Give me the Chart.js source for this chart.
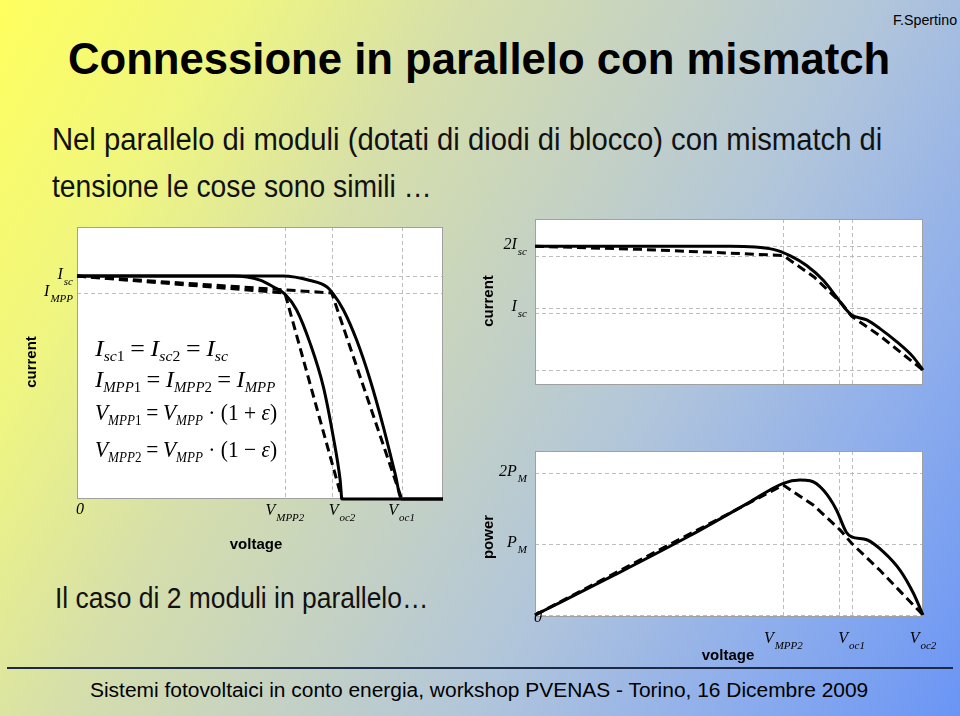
<!DOCTYPE html>
<html>
<head>
<meta charset="utf-8">
<script src="https://cdn.jsdelivr.net/npm/chart.js@4.4.1/dist/chart.umd.min.js"></script>
<style>
  html, body { margin:0; padding:0; }
  body {
    width:960px; height:716px; overflow:hidden; position:relative;
    background: linear-gradient(120deg, #ffff5e 0%, #eef582 18%, #d6dfaa 34%, #c4d1c4 50%, #b2c6da 64%, #93b1ea 80%, #6a95f5 100%);
    font-family: "Liberation Sans", Arial, sans-serif; color:#000;
  }
  .txt { position:absolute; white-space:nowrap; line-height:1; display:inline-block; transform-origin:left center; }
  .title { font-size:44px; font-weight:bold; }
  .body { font-size:31px; color:#111; }
  .foot { font-size:20px; }
  .axt { position:absolute; font-size:15px; font-weight:bold; white-space:nowrap; line-height:1; transform:translate(-50%,-50%); }
  .axt.rot { transform:translate(-50%,-50%) rotate(-90deg); }
  .eq { position:absolute; left:95px; font-family:"Liberation Serif", "Times New Roman", serif; font-size:23px; line-height:1; white-space:nowrap; display:inline-block; transform-origin:left center; }
  .eq sub { font-size:14px; vertical-align:-5px; line-height:0; }
  .eq .op { margin:0 5px; }
  .sep { position:absolute; left:7px; top:667px; width:946px; height:2px; background:#1c2a48; }
  canvas { position:absolute; }
</style>
</head>
<body>

<div class="txt" style="left:893px; top:13px; font-size:14px;" data-w="64">F.Spertino</div>
<div class="txt title" style="left:68px; top:37px;" data-w="822">Connessione in parallelo con mismatch</div>
<div class="txt body" style="left:52px; top:124px;" data-w="830">Nel parallelo di moduli (dotati di diodi di blocco) con mismatch di</div>
<div class="txt body" style="left:52px; top:171px;" data-w="380">tensione le cose sono simili …</div>
<div class="txt body" style="left:55px; top:584px; font-size:29px;" data-w="373">Il caso di 2 moduli in parallelo…</div>
<div class="sep"></div>
<div class="txt foot" style="left:90px; top:680px;" data-w="778">Sistemi fotovoltaici in conto energia, workshop PVENAS - Torino, 16 Dicembre 2009</div>

<canvas id="ivSingle" width="470" height="360" style="left:0; top:200px;"></canvas>
<canvas id="ivParallel" width="480" height="225" style="left:480px; top:205px;"></canvas>
<canvas id="pvParallel" width="480" height="230" style="left:480px; top:435px;"></canvas>

<div class="eq" style="top:337px;" data-w="133"><i>I</i><sub><i>sc</i>1</sub><span class="op">=</span><i>I</i><sub><i>sc</i>2</sub><span class="op">=</span><i>I</i><sub><i>sc</i></sub></div>
<div class="eq" style="top:368px;" data-w="180"><i>I</i><sub><i>MPP</i>1</sub><span class="op">=</span><i>I</i><sub><i>MPP</i>2</sub><span class="op">=</span><i>I</i><sub><i>MPP</i></sub></div>
<div class="eq" style="top:401px;" data-w="182"><i>V</i><sub><i>MPP</i>1</sub><span class="op">=</span><i>V</i><sub><i>MPP</i></sub> · (1 + <i>ε</i>)</div>
<div class="eq" style="top:438px;" data-w="182"><i>V</i><sub><i>MPP</i>2</sub><span class="op">=</span><i>V</i><sub><i>MPP</i></sub> · (1 − <i>ε</i>)</div>

<div class="axt rot" style="left:30px; top:362px;">current</div>
<div class="axt" style="left:256px; top:543px;">voltage</div>
<div class="axt rot" style="left:487px; top:301px;">current</div>
<div class="axt rot" style="left:487px; top:537px;">power</div>
<div class="axt" style="left:728px; top:654px;">voltage</div>

<script>
// ---------- Dati: moduli singoli (curve I-V) ----------
const vMod2 = [0, 42.7, 50, 53.6, 56.8, 60, 63.7, 67.3, 70, 71.9, 72.4, 100];
const iMod2 = [1, 1, 0.982, 0.952, 0.919, 0.848, 0.698, 0.504, 0.28, 0.085, 0, 0];
const vMod1 = [0, 56.3, 63.7, 68.2, 70, 72.8, 76.4, 80.1, 83.7, 86.9, 88.7, 100];
const iMod1 = [1, 1, 0.98, 0.952, 0.92, 0.848, 0.713, 0.534, 0.324, 0.115, 0, 0];
const vMod2Lin = [0, 56.8, 72.4];
const iMod2Lin = [1, 0.924, 0];
const vMod1Lin = [0, 69.6, 88.7];
const iMod1Lin = [1, 0.924, 0];

const singleVGrid = [56.8, 69.6, 88.7];
const singleIGrid = [1, 0.924];
const singleITickVals = [1, 0.924];
const singleITickMain = ['I', 'I'];
const singleITickSub = ['sc', 'MPP'];
const singleVTickVals = [0, 56.8, 72.4, 88.7];
const singleVTickMain = ['0', 'V', 'V', 'V'];
const singleVTickSub = ['', 'MPP2', 'oc2', 'oc1'];

// ---------- Dati: parallelo (I-V) ----------
const vPar = [0, 50.3, 61.4, 65.7, 70, 74.3, 77.7, 80.3, 81.6, 85.5, 88.9, 93.2, 97.5, 100];
const iPar = [2.0, 2.0, 1.95, 1.85, 1.69, 1.45, 1.18, 0.97, 0.89, 0.81, 0.67, 0.46, 0.21, 0];
const vParLin = [0, 27, 50, 64, 72, 79, 81.6, 89, 100];
const iParLin = [2.0, 1.95, 1.89, 1.85, 1.5, 1.08, 0.87, 0.55, 0];

const parVGrid = [64, 78.4, 81.6];
const parIGrid = [2, 1.85, 1, 0.92, 0];
const parITickVals = [2, 1];
const parITickMain = ['2I', 'I'];
const parITickSub = ['sc', 'sc'];

// ---------- Dati: parallelo (P-V) ----------
const vPow = [0, 20, 40, 55, 64, 68.3, 70.9, 74.3, 77.7, 80.2, 81.6, 85.5, 89.8, 94.1, 97.5, 100];
const pPow = [0, 0.55, 1.12, 1.58, 1.855, 1.9, 1.89, 1.76, 1.48, 1.17, 1.1, 1.06, 0.89, 0.63, 0.31, 0];
const vPowLin = [0, 64, 71.7, 78.6, 81.6, 88.9, 100];
const pPowLin = [0, 1.83, 1.55, 1.2, 1.01, 0.63, 0];

const powVGrid = [64, 78.4, 81.6];
const powPGrid = [2, 1, 0];
const powPTickVals = [2, 1];
const powPTickMain = ['2P', 'P'];
const powPTickSub = ['M', 'M'];
const powVTickVals = [0, 64, 81.6, 100];
const powVTickMain = ['0', 'V', 'V', 'V'];
const powVTickSub = ['', 'MPP2', 'oc1', 'oc2'];

// ---------- Helpers ----------
const pts = (xs, ys) => xs.map((x, i) => ({ x, y: ys[i] }));
const ticks = (vals, main, sub) => vals.map((v, i) => ({ v, main: main[i], sub: sub[i] }));

function solid(data) {
  return { data, borderColor:'#000', borderWidth:3, pointRadius:0, cubicInterpolationMode:'monotone', fill:false, clip:false };
}
function dashed(data) {
  return { data, borderColor:'#000', borderWidth:3, borderDash:[9,5], pointRadius:0, tension:0, fill:false, clip:false };
}

function drawMath(ctx, x, y, main, sub, align) {
  const mf = 'italic 16px "Liberation Serif", serif';
  const sf = 'italic 11px "Liberation Serif", serif';
  ctx.font = mf; const wm = ctx.measureText(main).width;
  ctx.font = sf; const ws = sub ? ctx.measureText(sub).width + 1 : 0;
  const w = wm + ws;
  let x0 = align === 'right' ? x - w : align === 'center' ? x - w / 2 : x;
  ctx.textAlign = 'left'; ctx.textBaseline = 'alphabetic'; ctx.fillStyle = '#000';
  ctx.font = mf; ctx.fillText(main, x0, y);
  if (sub) { ctx.font = sf; ctx.fillText(sub, x0 + wm + 1, y + 6); }
}

// ---------- Plugin: area bianca, griglia tratteggiata, etichette ----------
const slidePlot = {
  id: 'slidePlot',
  beforeDraw(chart, args, o) {
    const { ctx, chartArea: a } = chart;
    const xs = chart.scales.x, ys = chart.scales.y;
    ctx.save();
    ctx.fillStyle = '#fff';
    ctx.fillRect(a.left, a.top, a.width, a.height);
    ctx.strokeStyle = '#bdbdbd'; ctx.lineWidth = 1; ctx.setLineDash([4, 3]);
    o.xGrid.forEach(v => {
      const px = Math.round(xs.getPixelForValue(v)) + 0.5;
      ctx.beginPath(); ctx.moveTo(px, a.top); ctx.lineTo(px, a.bottom); ctx.stroke();
    });
    o.yGrid.forEach(v => {
      const py = Math.round(ys.getPixelForValue(v)) + 0.5;
      ctx.beginPath(); ctx.moveTo(a.left, py); ctx.lineTo(a.right, py); ctx.stroke();
    });
    ctx.setLineDash([]);
    ctx.strokeStyle = '#a0a0a0';
    ctx.strokeRect(a.left + 0.5, a.top + 0.5, a.width - 1, a.height - 1);
    ctx.restore();
  },
  afterDraw(chart, args, o) {
    const { ctx, chartArea: a } = chart;
    const xs = chart.scales.x, ys = chart.scales.y;
    ctx.save();
    (o.yTicks || []).forEach(t => drawMath(ctx, a.left - o.yGap, ys.getPixelForValue(t.v) + 3, t.main, t.sub, 'right'));
    (o.xTicks || []).forEach(t => {
      const dy = t.main === '0' ? o.zeroDy : o.xDy;
      drawMath(ctx, xs.getPixelForValue(t.v) + (t.main === '0' ? 3 : 0), a.bottom + dy, t.main, t.sub, 'center');
    });
    ctx.restore();
  }
};

function makeChart(id, datasets, yMin, yMax, pad, plot) {
  return new Chart(document.getElementById(id), {
    type: 'line',
    data: { datasets },
    options: {
      responsive: false, animation: false, devicePixelRatio: 1,
      layout: { padding: pad },
      scales: {
        x: { type: 'linear', display: false, min: 0, max: 100 },
        y: { display: false, min: yMin, max: yMax }
      },
      plugins: { legend: { display: false }, tooltip: { enabled: false }, slidePlot: plot }
    },
    plugins: [slidePlot]
  });
}

// ---------- Grafici ----------
makeChart('ivSingle', [
  solid(pts(vMod2, iMod2)), solid(pts(vMod1, iMod1)),
  dashed(pts(vMod2Lin, iMod2Lin)), dashed(pts(vMod1Lin, iMod1Lin))
], 0, 1.22, { left:77, top:27, right:27, bottom:61 }, {
  xGrid: singleVGrid, yGrid: singleIGrid,
  yTicks: ticks(singleITickVals, singleITickMain, singleITickSub), yGap: 4,
  xTicks: ticks(singleVTickVals, singleVTickMain, singleVTickSub), xDy: 16, zeroDy: 15
});

makeChart('ivParallel', [
  solid(pts(vPar, iPar)), dashed(pts(vParLin, iParLin))
], -0.24, 2.44, { left:55, top:14, right:37, bottom:45 }, {
  xGrid: parVGrid, yGrid: parIGrid,
  yTicks: ticks(parITickVals, parITickMain, parITickSub), yGap: 8
});

makeChart('pvParallel', [
  solid(pts(vPow, pPow)), dashed(pts(vPowLin, pPowLin))
], -0.028, 2.31, { left:55, top:16, right:37, bottom:48 }, {
  xGrid: powVGrid, yGrid: powPGrid,
  yTicks: ticks(powPTickVals, powPTickMain, powPTickSub), yGap: 8,
  xTicks: ticks(powVTickVals, powVTickMain, powVTickSub), xDy: 26, zeroDy: 5
});

// ---------- Adatta larghezza testi ----------
document.querySelectorAll('[data-w]').forEach(el => {
  const s = parseFloat(el.dataset.w) / el.scrollWidth;
  el.style.transform = `scaleX(${s.toFixed(3)})`;
});
</script>
</body>
</html>
